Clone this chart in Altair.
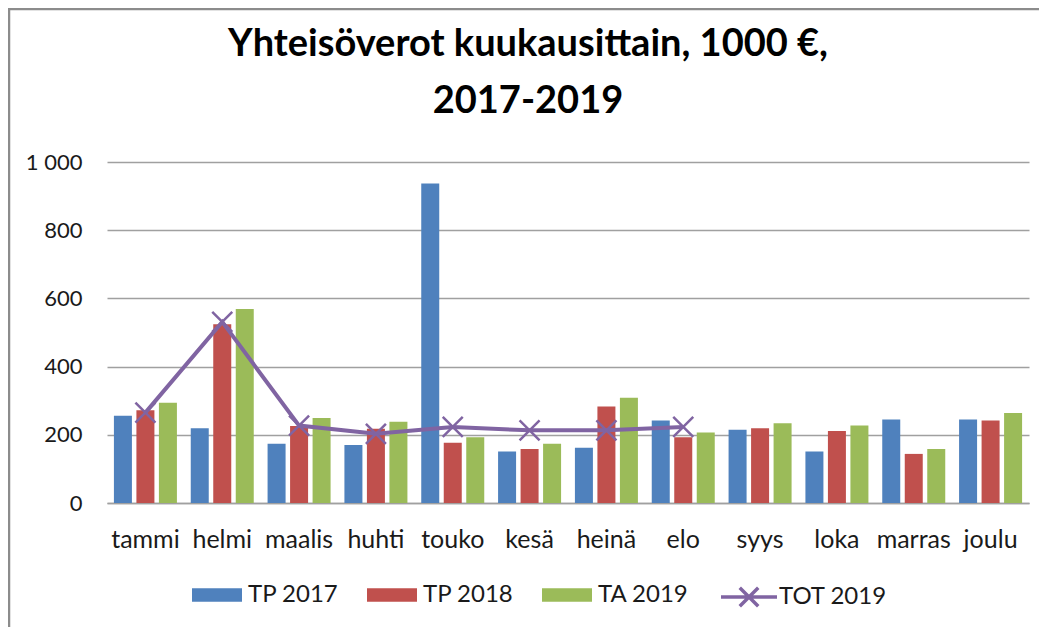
import altair as alt
import pandas as pd

months = ["tammi", "helmi", "maalis", "huhti", "touko", "kesä", "heinä", "elo",
          "syys", "loka", "marras", "joulu"]
tp2017 = [256, 219, 174, 170, 937, 151, 162, 242, 215, 151, 245, 245]
tp2018 = [272, 524, 226, 218, 177, 158, 283, 193, 219, 211, 144, 242]
ta2019 = [294, 569, 249, 238, 193, 174, 309, 207, 234, 227, 158, 264]
tot2019 = [265, 531, 227, 203, 223, 213, 213, 223]

bar_series = ["TP 2017", "TP 2018", "TA 2019"]
line_series = ["TOT 2019"]
bar_colors = ["#4F81BD", "#C0504D", "#9BBB59"]
line_color = "#8064A2"
y_ticks = [0, 200, 400, 600, 800, 1000]
title_lines = ["Yhteisöverot kuukausittain, 1000 €,", "2017-2019"]

rows = []
for name, vals in zip(bar_series, [tp2017, tp2018, ta2019]):
    for m, v in zip(months, vals):
        rows.append({"month": m, "series": name, "value": v})
bar_df = pd.DataFrame(rows)
line_df = pd.DataFrame({"month": months[:len(tot2019)], "series": line_series[0], "value": tot2019})
frame_df = pd.DataFrame({"a": [0]})
title_df = pd.DataFrame({"t": ["\n".join(title_lines)]})

FONT = "Lato"
TXT = "#1a1a1a"
GRID = "#a0a0a0"

x_enc = alt.X(
    "month:N", sort=months,
    scale=alt.Scale(paddingInner=0.18, paddingOuter=0.09),
    axis=alt.Axis(title=None, labelAngle=0, ticks=False, domain=True, domainColor=GRID,
                  domainWidth=1.5, labelFont=FONT, labelFontSize=25, labelColor=TXT,
                  labelBaseline="alphabetic", labelPadding=44, grid=False),
)
y_enc = alt.Y(
    "value:Q",
    scale=alt.Scale(domain=[0, 1000], nice=False),
    axis=alt.Axis(title=None, values=y_ticks, grid=True, gridColor=GRID, gridWidth=1.5,
                  domain=False, ticks=False, labelFont=FONT, labelFontSize=22,
                  labelColor=TXT, labelPadding=25,
                  labelExpr="replace(format(datum.value, ','), ',', ' ')"),
)

frame = alt.Chart(frame_df).mark_rect(fillOpacity=0, stroke="#8c8c8c", strokeWidth=2.5).encode(
    x=alt.value(-98), x2=alt.value(945), y=alt.value(-153), y2=alt.value(470)
)

title = alt.Chart(title_df).mark_text(
    font=FONT, fontSize=38, fontWeight="bold", color="black", align="center",
    baseline="alphabetic", lineBreak="\n", lineHeight=57,
).encode(text="t:N", x=alt.value(421), y=alt.value(-106))

bars = alt.Chart(bar_df).mark_bar().encode(
    x=x_enc,
    xOffset=alt.XOffset("series:N", sort=bar_series,
                        scale=alt.Scale(paddingInner=0.2, paddingOuter=0)),
    y=y_enc,
    color=alt.Color(
        "series:N", sort=bar_series,
        scale=alt.Scale(domain=bar_series, range=bar_colors),
        legend=alt.Legend(
            title=None, orient="none", legendX=85, legendY=408, direction="horizontal",
            symbolType="M-1,-0.267H1V0.267H-1Z", symbolSize=2500, symbolStrokeWidth=0,
            labelFont=FONT, labelFontSize=24, labelColor=TXT, labelOffset=6,
            columnPadding=28, padding=0,
        ),
    ),
)

line = alt.Chart(line_df).mark_line(strokeWidth=4).encode(
    x=alt.X("month:N", sort=months),
    y="value:Q",
    stroke=alt.Stroke(
        "series:N",
        scale=alt.Scale(domain=line_series, range=[line_color]),
        legend=alt.Legend(
            title=None, orient="none", legendX=612, legendY=405, direction="horizontal",
            symbolType="M-1,0H1M-0.33,-0.33L0.33,0.33M-0.33,0.33L0.33,-0.33",
            symbolSize=3136, symbolStrokeWidth=3.5, symbolFillColor="transparent",
            labelFont=FONT, labelFontSize=24, labelColor=TXT, labelOffset=0, padding=0,
        ),
    ),
)

points = alt.Chart(line_df).mark_point(
    shape="M-1,-1L1,1M-1,1L1,-1", size=400, strokeWidth=2.5, filled=False,
    color=line_color, opacity=1,
).encode(x=alt.X("month:N", sort=months), y="value:Q")

chart = alt.layer(frame, title, bars, line, points).properties(
    width=922, height=341,
    autosize=alt.AutoSizeParams(type="none"),
    padding={"left": 99, "top": 154, "right": 10, "bottom": 124},
    background="white",
).configure_view(stroke=None)

chart.save("out.html", embed_options={"renderer": "svg", "actions": False})
